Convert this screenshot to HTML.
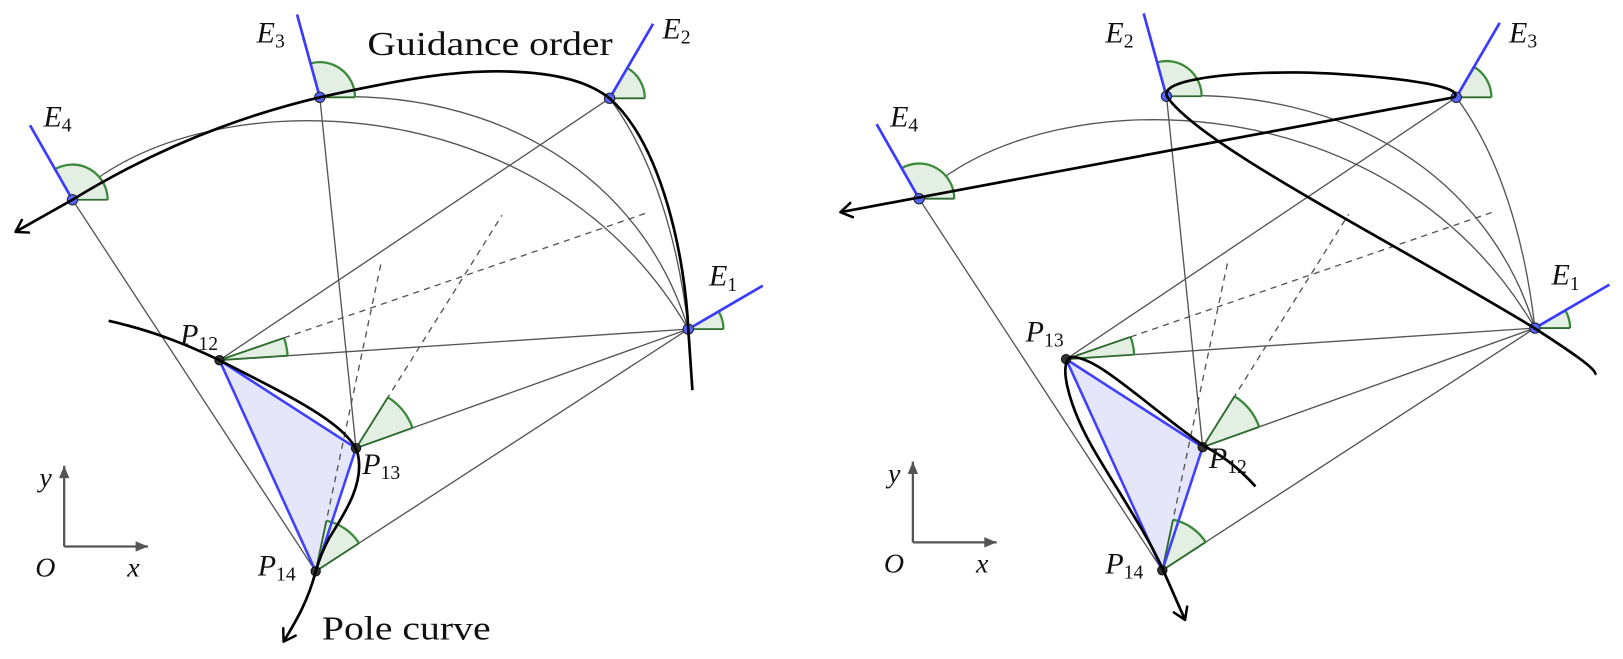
<!DOCTYPE html>
<html><head><meta charset="utf-8">
<style>
html,body{margin:0;padding:0;background:#fff;}
svg{display:block;}
text{font-family:"Liberation Serif","Times New Roman",serif;fill:#111;}
.it{font-style:italic;}
</style></head>
<body>
<svg id="s" width="1623" height="659" viewBox="0 0 1623 659" xmlns="http://www.w3.org/2000/svg">
<defs>
<marker id="ar" markerUnits="userSpaceOnUse" markerWidth="30" markerHeight="30" refX="0" refY="0" viewBox="-15 -15 30 30" orient="auto">
<path d="M-11,-7 L0,0 L-11,7" fill="none" stroke="#000" stroke-width="2.4" stroke-linecap="round" stroke-linejoin="round"/>
</marker>
<marker id="ax" markerUnits="userSpaceOnUse" markerWidth="30" markerHeight="30" refX="0" refY="0" viewBox="-15 -15 30 30" orient="auto">
<path d="M-12,-5 L0,0 L-12,5 Z" fill="#555"/>
</marker>
</defs>
<g transform="scale(1.035)">
<g id="con"></g>
<use href="#con" transform="translate(818,-1)"/>

<!-- left curves -->
<path d="M70,193 C140,150 220,115 309,94 C390,76 440,68 488,69 C540,70 570,80 589,95 C640,140 662,250 665,318 L669,377" fill="none" stroke="#000" stroke-width="2.6"/>
<path d="M70,193 L15,224" fill="none" stroke="#000" stroke-width="2.6" marker-end="url(#ar)"/>
<path d="M105,310 C150,320 185,335 212,348 C270,378 340,410 346,440 C352,470 330,500 318,520 C310,535 307,545 305,552 C298,580 286,600 274,620" fill="none" stroke="#000" stroke-width="2.6" marker-end="url(#ar)"/>

<!-- right curves -->
<path d="M1405,94 C1420,80 1300,70 1250,70 C1180,70 1118,78 1128,94 C1160,140 1330,225 1481,316 C1515,338 1545,358 1541,362" fill="none" stroke="#000" stroke-width="2.6"/>
<path d="M1405,94 L812,205" fill="none" stroke="#000" stroke-width="2.6" marker-end="url(#ar)"/>
<path d="M1213,470 C1195,450 1180,440 1162,430 C1100,385 1060,345 1036,345 C1022,347 1030,390 1060,440 C1090,490 1110,520 1123,549 L1145,599" fill="none" stroke="#000" stroke-width="2.6" marker-end="url(#ar)"/>

<!-- axes -->
<g stroke="#555" stroke-width="2.2" fill="none">
<path d="M62,528 L62,450" marker-end="url(#ax)"/>
<path d="M62,528 L143,528" marker-end="url(#ax)"/>
<path d="M882,524 L882,446" marker-end="url(#ax)"/>
<path d="M882,524 L963,524" marker-end="url(#ax)"/>
</g>
<g font-size="27">
<text class="it" x="38" y="470">y</text>
<text class="it" x="34" y="557">O</text>
<text class="it" x="123" y="557">x</text>
<text class="it" x="858" y="466">y</text>
<text class="it" x="854" y="553">O</text>
<text class="it" x="943" y="553">x</text>
</g>

<!-- labels -->
<g font-size="29">
<text x="42" y="122"><tspan class="it">E</tspan><tspan font-size="19" dy="5">4</tspan></text>
<text x="248" y="41"><tspan class="it">E</tspan><tspan font-size="19" dy="5">3</tspan></text>
<text x="640" y="37"><tspan class="it">E</tspan><tspan font-size="19" dy="5">2</tspan></text>
<text x="685" y="276"><tspan class="it">E</tspan><tspan font-size="19" dy="5">1</tspan></text>
<text x="174" y="333"><tspan class="it">P</tspan><tspan font-size="19" dy="5">12</tspan></text>
<text x="350" y="458"><tspan class="it">P</tspan><tspan font-size="19" dy="5">13</tspan></text>
<text x="249" y="556"><tspan class="it">P</tspan><tspan font-size="19" dy="5">14</tspan></text>

<text x="860" y="122"><tspan class="it">E</tspan><tspan font-size="19" dy="5">4</tspan></text>
<text x="1068" y="41"><tspan class="it">E</tspan><tspan font-size="19" dy="5">2</tspan></text>
<text x="1458" y="41"><tspan class="it">E</tspan><tspan font-size="19" dy="5">3</tspan></text>
<text x="1499" y="275"><tspan class="it">E</tspan><tspan font-size="19" dy="5">1</tspan></text>
<text x="991" y="330"><tspan class="it">P</tspan><tspan font-size="19" dy="5">13</tspan></text>
<text x="1168" y="452"><tspan class="it">P</tspan><tspan font-size="19" dy="5">12</tspan></text>
<text x="1068" y="554"><tspan class="it">P</tspan><tspan font-size="19" dy="5">14</tspan></text>
</g>
<text x="355" y="53" font-size="33" textLength="237" lengthAdjust="spacingAndGlyphs">Guidance order</text>
<text x="311" y="618" font-size="33" textLength="163" lengthAdjust="spacingAndGlyphs">Pole curve</text>
</g>
</svg>
<script>
(function(){
var NS="http://www.w3.org/2000/svg", g=document.getElementById("con");
function el(t,a){var e=document.createElementNS(NS,t);for(var k in a)e.setAttribute(k,a[k]);g.appendChild(e);return e;}
var E4=[70,193],E3=[309,94],E2=[589,95],E1=[665,318],P12=[212,348],P13=[344,433],P14=[305,552];
function wedge(c,d1,d2,r){
 var a1=Math.atan2(d1[1]-c[1],d1[0]-c[0]),a2=Math.atan2(d2[1]-c[1],d2[0]-c[0]);
 var u1=[Math.cos(a1),Math.sin(a1)],u2=[Math.cos(a2),Math.sin(a2)];
 var cr=u1[0]*u2[1]-u1[1]*u2[0];
 var sweep=cr>0?1:0,large=0;
 var p1=[c[0]+r*u1[0],c[1]+r*u1[1]],p2=[c[0]+r*u2[0],c[1]+r*u2[1]];
 el("path",{d:"M"+c+" L"+p1+" A"+r+","+r+" 0 "+large+" "+sweep+" "+p2+" Z",fill:"#e4efe4",stroke:"none"});
 el("path",{d:"M"+p1+" A"+r+","+r+" 0 "+large+" "+sweep+" "+p2,fill:"none",stroke:"#3a8a3a","stroke-width":2.2});
 el("path",{d:"M"+c+" L"+p1+" M"+c+" L"+p2,fill:"none",stroke:"#2d6a2d","stroke-width":1.8});
}
el("path",{d:"M"+P12+" L"+P13+" L"+P14+" Z",fill:"#e6e6fb",stroke:"none"});
var gl={fill:"none",stroke:"#555","stroke-width":1.3};
function line(a,b,extra){var o={d:"M"+a+" L"+b};for(var k in gl)o[k]=gl[k];if(extra)for(var k in extra)o[k]=extra[k];el("path",o);}
el("path",{d:"M70,193 C180,80 520,70 665,318",fill:"none",stroke:"#555","stroke-width":1.3});
el("path",{d:"M309,94 C480,85 620,170 665,318",fill:"none",stroke:"#555","stroke-width":1.3});
el("path",{d:"M589,95 C630,150 655,230 665,318",fill:"none",stroke:"#555","stroke-width":1.3});
line(E4,P14);line(E3,P13);line(E2,P12);line(E1,P12);line(E1,P13);line(E1,P14);
var dash={"stroke-dasharray":"6,5"};
var D12=[627,205],D13=[485,208],D14=[368,255];
line(P12,D12,dash);line(P13,D13,dash);line(P14,D14,dash);
wedge(P12,D12,E1,66);wedge(P13,D13,E1,58);wedge(P14,D14,E1,50);
var B=[[E4,[29,121]],[E3,[287,14]],[E2,[631,23]],[E1,[737,276]]];
B.forEach(function(b){wedge(b[0],b[1],[b[0][0]+10,b[0][1]],34);});
el("path",{d:"M"+P12+" L"+P13+" L"+P14+" Z",fill:"none",stroke:"#4040ff","stroke-width":2.5,"stroke-linejoin":"round"});
B.forEach(function(b){el("path",{d:"M"+b[0]+" L"+b[1],stroke:"#3b3bff","stroke-width":2.6,fill:"none"});});
[E4,E3,E2,E1].forEach(function(p){el("circle",{cx:p[0],cy:p[1],r:5,fill:"#5566ff",stroke:"#223","stroke-width":1});});
[P12,P13,P14].forEach(function(p){el("circle",{cx:p[0],cy:p[1],r:4.5,fill:"#333",stroke:"#111","stroke-width":1});});
})();
</script>
</body></html>
